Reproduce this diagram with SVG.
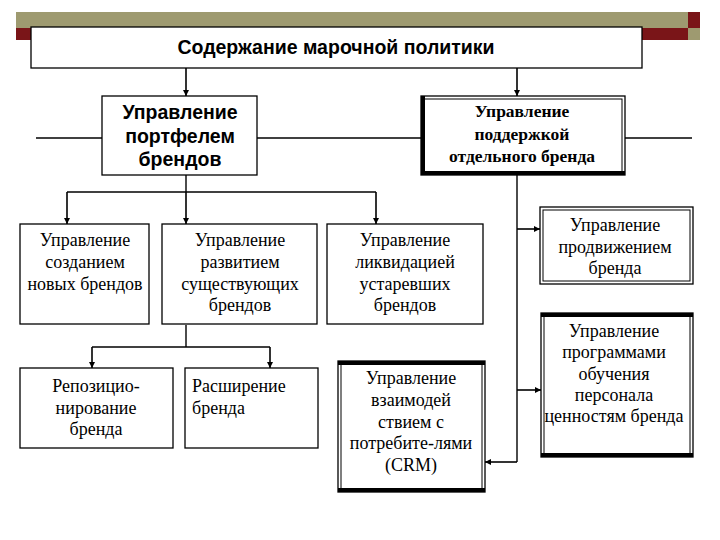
<svg xmlns="http://www.w3.org/2000/svg" width="720" height="540" viewBox="0 0 720 540">
<defs>
<marker id="arr" viewBox="0 0 8 8" refX="8" refY="4" markerWidth="6" markerHeight="6" markerUnits="userSpaceOnUse" orient="auto">
<path d="M0,0 L8,4 L0,8 Z" fill="#000"/>
</marker>
<style>
.box{fill:#fff;stroke:#000;stroke-width:1.3}
.thin{fill:none;stroke:#000;stroke-width:1}
.thick{stroke:#000;stroke-width:4;fill:none}
.ln{fill:none;stroke:#000;stroke-width:1.4}
.lnA{fill:none;stroke:#000;stroke-width:1.6;marker-end:url(#arr)}
.t{font-family:"Liberation Serif","Times New Roman",serif;font-size:18px;fill:#000;text-anchor:middle}
.tl{font-family:"Liberation Serif","Times New Roman",serif;font-size:18px;fill:#000}
.tb{font-family:"Liberation Serif","Times New Roman",serif;font-size:17.5px;font-weight:bold;fill:#000;text-anchor:middle}
.sb{font-family:"Liberation Sans",Arial,sans-serif;font-weight:bold;fill:#000;text-anchor:middle}
</style>
</defs>
<g id="decor">
<rect x="16" y="12" width="672" height="16" fill="#9E9A70"/>
<rect x="16" y="28" width="672" height="12" fill="#7A1518"/>
<rect x="688" y="12" width="12" height="16" fill="#7A1518"/>
<rect x="688" y="28" width="12" height="12" fill="#9E9A70"/>
</g>
<g id="connectors">
<line class="ln" x1="36" y1="138" x2="692" y2="138"/>
<line class="lnA" x1="186" y1="68" x2="186" y2="96"/>
<line class="lnA" x1="517" y1="68" x2="517" y2="96"/>
<line class="ln" x1="186" y1="175" x2="186" y2="192"/>
<line class="ln" x1="67" y1="192" x2="376" y2="192"/>
<line class="lnA" x1="67" y1="192" x2="67" y2="224"/>
<line class="lnA" x1="186" y1="192" x2="186" y2="224"/>
<line class="lnA" x1="376" y1="192" x2="376" y2="224"/>
<line class="ln" x1="186" y1="325" x2="186" y2="347"/>
<line class="ln" x1="92" y1="347" x2="270" y2="347"/>
<line class="lnA" x1="92" y1="347" x2="92" y2="368"/>
<line class="lnA" x1="270" y1="347" x2="270" y2="368"/>
<line class="ln" x1="517" y1="175" x2="517" y2="462"/>
<line class="lnA" x1="517" y1="229" x2="540" y2="229"/>
<line class="lnA" x1="517" y1="390" x2="541" y2="390"/>
<line class="lnA" x1="517" y1="462" x2="485" y2="462"/>
</g>
<g id="title">
<rect class="box" x="31" y="27" width="611" height="41"/>
<text class="sb" x="336" y="54" font-size="19.5">Содержание марочной политики</text>
</g>
<g id="portfolio">
<rect class="box" x="102" y="96" width="155" height="79"/>
<text class="sb" font-size="19.5" x="180" y="119">Управление</text>
<text class="sb" font-size="19.5" x="180" y="143">портфелем</text>
<text class="sb" font-size="19.5" x="180" y="166">брендов</text>
</g>
<g id="support">
<rect class="box" x="421" y="96" width="204" height="79"/>
<rect class="thin" x="424" y="99" width="198" height="73"/>
<line class="thick" x1="423" y1="96" x2="423" y2="175"/>
<line class="thick" x1="421" y1="173" x2="625" y2="173"/>
<text class="tb" x="522" y="117">Управление</text>
<text class="tb" x="522" y="140">поддержкой</text>
<text class="tb" x="522" y="162">отдельного бренда</text>
</g>
<g id="create">
<rect class="box" x="20" y="224" width="129" height="100"/>
<text class="t" x="85" y="246">Управление</text>
<text class="t" x="85" y="268">созданием</text>
<text class="t" x="85" y="290">новых брендов</text>
</g>
<g id="develop">
<rect class="box" x="162" y="224" width="155" height="100"/>
<text class="t" x="240" y="246">Управление</text>
<text class="t" x="240" y="268">развитием</text>
<text class="t" x="240" y="290">существующих</text>
<text class="t" x="240" y="311">брендов</text>
</g>
<g id="liquidate">
<rect class="box" x="327" y="224" width="156" height="100"/>
<text class="t" x="405" y="246">Управление</text>
<text class="t" x="405" y="268">ликвидацией</text>
<text class="t" x="405" y="290">устаревших</text>
<text class="t" x="405" y="311">брендов</text>
</g>
<g id="promo">
<rect class="box" x="540" y="207" width="153" height="77"/>
<rect class="thin" x="543" y="210" width="147" height="71"/>
<text class="t" x="615" y="231">Управление</text>
<text class="t" x="615" y="253">продвижением</text>
<text class="t" x="615" y="274">бренда</text>
</g>
<g id="reposition">
<rect class="box" x="20" y="368" width="153" height="80"/>
<text class="t" x="96" y="392">Репозицио-</text>
<text class="t" x="96" y="414">нирование</text>
<text class="t" x="96" y="435">бренда</text>
</g>
<g id="extension">
<rect class="box" x="185" y="368" width="133" height="80"/>
<text class="tl" x="192" y="392">Расширение</text>
<text class="tl" x="192" y="414">бренда</text>
</g>
<g id="crm">
<rect class="box" x="338" y="361" width="147" height="131"/>
<rect class="thin" x="341" y="364" width="141" height="125"/>
<line class="thick" x1="338" y1="363" x2="485" y2="363"/>
<line class="thick" x1="338" y1="490" x2="485" y2="490"/>
<text class="t" x="411" y="384">Управление</text>
<text class="t" x="411" y="406">взаимодей</text>
<text class="t" x="411" y="428">ствием с</text>
<text class="t" x="411" y="449">потребите-лями</text>
<text class="t" x="411" y="471">(CRM)</text>
</g>
<g id="training">
<rect class="box" x="541" y="313" width="152" height="144"/>
<rect class="thin" x="544" y="316" width="146" height="138"/>
<line class="thick" x1="541" y1="315" x2="693" y2="315"/>
<line class="thick" x1="541" y1="455" x2="693" y2="455"/>
<text class="t" x="614" y="337">Управление</text>
<text class="t" x="614" y="358">программами</text>
<text class="t" x="614" y="380">обучения</text>
<text class="t" x="614" y="401">персонала</text>
<text class="t" x="614" y="422">ценностям бренда</text>
</g>
</svg>
